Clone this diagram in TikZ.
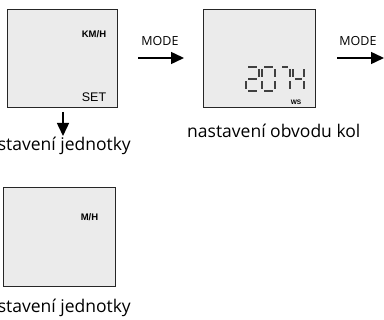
\documentclass[tikz,border=0pt]{standalone}
\usepackage{fontspec}
\setmainfont{Open Sans}
\newfontfamily\arialf{Liberation Sans}
\usetikzlibrary{arrows.meta}
\definecolor{lcdfill}{HTML}{EBEBEB}
\definecolor{edge}{HTML}{262626}
\tikzset{
  lcd/.style={draw=edge, line width=1.4pt, fill=lcdfill, inner sep=0pt},
  flow/.style={line width=1.5pt, -{Triangle[length=13pt,width=12pt]}},
  modetxt/.style={font=\fontsize{12.5}{13}\selectfont, inner sep=0pt},
  captxt/.style={font=\fontsize{17.5}{20}\selectfont, inner sep=0pt},
  tinybold/.style={font=\arialf\bfseries\fontsize{9.5}{10}\selectfont, inner sep=0pt},
  segline/.style={draw=black!75, line width=1.9pt, line cap=butt, shorten >=0.8pt, shorten <=0.8pt}
}
\newcommand{\dseg}[4]{\draw[segline] (#1,#2) -- (#3,#4);}
\begin{document}
\begin{tikzpicture}[x=1pt,y=-1pt]
\useasboundingbox (0,0) rectangle (384,320);
% boxes
\node[lcd, minimum width=110pt, minimum height=98pt, anchor=north west] (b1) at (7,9) {};
\node[lcd, minimum width=112pt, minimum height=98pt, anchor=north west] (b2) at (203,9) {};
\node[lcd, minimum width=112pt, minimum height=99pt, anchor=north west] (b3) at (3,187) {};
% box contents
\node[tinybold] (kmh) at (94,34.5) {KM/H};
\node[font=\arialf\fontsize{12.5}{13}\selectfont, inner sep=0pt] (set) at (94,97) {SET};
\node[tinybold] (mh) at (89.5,217) {M/H};
\node[tinybold, font=\arialf\bfseries\fontsize{6.5}{7}\selectfont] (ws) at (296,102) {WS};
% digit 2 at X=246,w=13,Y=67,h=24
\dseg{247.5}{67}{257.5}{67}
\dseg{259}{68.5}{259}{77.5}
\dseg{247.5}{79}{257.5}{79}
\dseg{246}{80.5}{246}{89.5}
\dseg{247.5}{91}{257.5}{91}
% digit 0 at X=262
\dseg{263.5}{67}{273.5}{67}
\dseg{275}{68.5}{275}{77.5}
\dseg{275}{80.5}{275}{89.5}
\dseg{263.5}{91}{273.5}{91}
\dseg{262}{80.5}{262}{89.5}
\dseg{262}{68.5}{262}{77.5}
% digit 7 at X=280,w=10
\dseg{281.5}{67}{288.5}{67}
\dseg{290}{68.5}{290}{77.5}
\dseg{290}{80.5}{290}{89.5}
% digit 4 at X=293,w=11
\dseg{293}{68.5}{293}{77.5}
\dseg{294.5}{79}{302.5}{79}
\dseg{304}{68.5}{304}{77.5}
\dseg{304}{80.5}{304}{89.5}
% arrows
\coordinate (a1s) at (138,58);
\coordinate (a1e) at (184,58);
\coordinate (a2s) at (337,58);
\coordinate (a2e) at (384,58);
\coordinate (a3s) at (63,112);
\coordinate (a3e) at (63,136);
\draw[flow] (a1s) -- (a1e);
\draw[flow] (a2s) -- (a2e);
\draw[flow] (a3s) -- (a3e);
\node[modetxt] (m1) at (160,41) {MODE};
\node[modetxt] (m2) at (358,41) {MODE};
% captions
\node[captxt, anchor=base east] (c1) at (131,151) {nastavení jednotky};
\node[captxt, anchor=base west] (c2) at (187,138) {nastavení obvodu kol};
\node[captxt, anchor=base east] (c3) at (131,313) {nastavení jednotky};
\end{tikzpicture}
\end{document}
